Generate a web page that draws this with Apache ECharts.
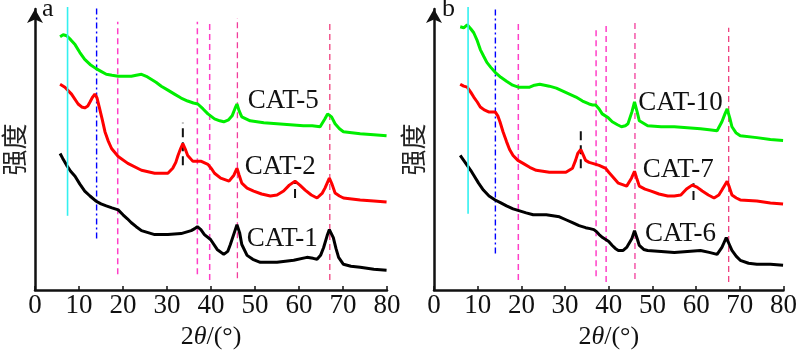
<!DOCTYPE html>
<html>
<head>
<meta charset="utf-8">
<script src="https://cdn.jsdelivr.net/npm/echarts@6/dist/echarts.min.js"></script>
<style>html,body{margin:0;padding:0;background:#fff}#c{width:800px;height:355px}</style>
</head>
<body>
<div id="c"></div>
<script>
// ---- data (2θ in degrees, intensity in arbitrary units) ----
const cat5 = [[5.7,256],[6.4,258],[7.2,257],[8.1,253],[9.1,248],[10.2,240],[11.3,233],[12.5,228],[13.8,224],[15.0,221],[16.2,218],[17.5,217],[18.9,216],[20.4,216],[21.9,216],[23.0,217],[24.2,218],[25.3,216],[26.4,213],[27.5,210],[28.7,206],[30.2,202],[31.7,198],[33.2,194],[34.7,191],[36.0,189],[37.0,188],[38.2,183],[39.3,178],[40.8,173],[42.0,171],[42.9,170],[44.0,172],[44.8,176],[45.5,184],[45.9,188],[46.4,181],[47.0,175],[48.9,171],[52.0,169],[55.0,168],[58.0,167],[61.0,166],[63.0,166],[64.8,165],[65.9,173],[66.5,178],[66.9,180],[67.4,175],[68.2,168],[69.2,163],[70.1,160],[73.9,158],[77.0,157],[79.9,156]];
const cat2 = [[5.7,208],[6.8,205],[8.3,198],[9.8,188],[10.6,185],[11.3,184],[12.0,186],[12.5,190],[13.1,195],[13.6,198],[14.1,194],[14.7,183],[15.3,172],[15.9,160],[16.6,151],[17.4,143],[18.9,135],[21.1,128],[24.2,121],[27.2,118],[30.2,118],[31.3,123],[32.0,129],[32.5,136],[33.1,143],[33.6,148],[34.1,143],[34.7,136],[35.9,130],[37.8,130],[39.3,127],[40.2,122],[40.8,118],[42.2,113],[44.1,110],[45.2,116],[45.9,123],[46.4,116],[47.0,108],[48.2,103],[49.7,100],[51.5,97],[53.5,95],[55.0,96],[56.5,100],[57.8,106],[59.1,110],[60.2,106],[61.4,101],[62.8,96],[64.1,93],[65.3,98],[65.9,103],[66.9,113],[67.5,107],[68.2,98],[69.2,95],[70.1,93],[73.9,91],[77.0,90],[79.9,89]];
const cat1 = [[5.7,138],[6.3,133],[7.2,126],[8.1,120],[9.1,115],[10.2,107],[11.3,100],[12.5,95],[13.8,90],[15.0,87],[16.2,85],[17.5,83],[18.9,81],[20.0,76],[21.0,72],[21.9,68],[23.0,64],[24.2,60],[25.7,58],[27.2,56],[30.2,56],[33.2,57],[35.5,60],[36.3,62],[36.9,64],[37.7,61],[38.5,56],[39.9,51],[41.4,41],[42.9,36],[43.8,39],[44.4,46],[45.3,58],[45.9,66],[46.5,58],[47.0,46],[48.2,35],[49.5,31],[51.2,28],[55.0,28],[58.8,30],[61.8,33],[63.2,32],[64.1,31],[64.9,35],[65.6,43],[66.4,55],[66.9,61],[67.3,59],[67.8,53],[68.4,42],[69.0,33],[70.1,26],[71.8,24],[73.9,23],[77.0,21],[79.9,20]];
const cat10 = [[6.0,266],[6.8,265],[7.6,268],[8.4,264],[9.1,260],[9.9,252],[10.6,243],[11.4,236],[12.1,230],[13.0,225],[14.0,220],[15.3,215],[16.6,211],[18.0,207],[19.3,205],[20.6,205],[21.9,205],[23.0,207],[24.2,208],[25.3,207],[26.4,206],[28.0,204],[29.5,201],[31.0,198],[32.5,195],[34.0,191],[35.5,188],[36.3,187],[37.0,187],[37.8,183],[38.5,178],[39.9,174],[40.8,170],[42.0,167],[42.9,165],[43.8,166],[44.4,168],[45.3,180],[45.9,190],[46.5,180],[47.0,171],[48.9,166],[52.0,165],[55.0,165],[58.0,164],[61.0,163],[63.0,162],[64.8,161],[65.9,170],[66.6,178],[67.1,183],[67.7,174],[68.2,165],[69.1,159],[70.1,156],[73.9,154],[77.0,152],[79.9,151]];
const cat7 = [[6.0,208],[6.8,206],[7.6,205],[8.4,200],[9.1,195],[9.9,190],[10.6,185],[11.5,182],[12.5,180],[13.3,180],[14.0,180],[14.6,176],[15.1,170],[15.8,160],[16.6,150],[17.3,142],[18.1,136],[19.2,131],[20.4,128],[21.9,124],[23.4,121],[26.4,119],[30.2,119],[31.7,123],[32.4,131],[32.9,138],[33.6,142],[34.1,137],[34.7,131],[35.5,129],[36.3,128],[37.8,126],[39.3,123],[40.0,119],[40.8,115],[42.2,108],[44.1,105],[45.2,113],[45.9,120],[46.4,113],[47.0,105],[48.3,102],[49.7,100],[51.5,97],[53.5,95],[55.0,95],[56.5,96],[57.8,102],[59.1,106],[60.2,104],[61.4,100],[62.8,96],[64.1,93],[65.2,96],[65.9,101],[67.1,110],[67.6,104],[68.2,96],[69.2,93],[70.1,91],[73.9,90],[77.0,88],[79.9,87]];
const cat6 = [[6.0,136],[6.8,131],[7.6,126],[8.4,121],[9.1,116],[10.2,108],[11.3,101],[12.6,95],[14.0,91],[15.3,88],[16.6,85],[18.1,82],[19.6,80],[21.1,78],[22.7,76],[24.2,76],[25.7,76],[27.2,75],[28.7,74],[30.2,71],[31.7,68],[33.2,65],[34.7,63],[35.7,62],[36.6,61],[37.2,59],[37.8,56],[38.6,53],[39.3,51],[40.0,49],[40.8,45],[41.5,42],[42.2,40],[43.3,40],[44.1,43],[45.3,52],[45.9,60],[46.5,52],[47.0,45],[48.0,41],[48.9,40],[52.0,39],[55.0,38],[58.0,39],[61.0,40],[63.0,38],[64.8,36],[65.9,43],[66.4,48],[66.9,53],[67.4,48],[68.2,40],[69.2,34],[70.1,30],[72.0,27],[73.9,26],[77.0,26],[79.9,25]];

// reference lines: position (2θ) and vertical extent (intensity units)
const refPosA = [7.4, 14.0, 18.8, 36.9, 39.7, 46.0, 67.0];
const refTopA = [286, 285, 271, 271, 271, 275, 273];
const refBotA = [75, 52, 16, 16, 10, 12, 10];
const refPosB = [7.8, 14.05, 19.3, 37.1, 39.4, 46.0, 67.45];
const refTopB = [286, 286, 270, 266, 269, 270, 265];
const refBotB = [77, 37, 10, 14, 8, 11, 8];
// black peak markers: position and extent
const markPosA = [33.6, 59.1];
const markTopA = [169, 110];
const markBotA = [126, 93];
const markPosB = [33.6, 59.4];
const markTopB = [163, 108];
const markBotB = [123, 91];

const namesA = ['CAT-5', 'CAT-2', 'CAT-1'];
const namesB = ['CAT-10', 'CAT-7', 'CAT-6'];
const labelPosA = [[56.4, 191], [55.75, 124], [56.2, 52]];
const labelPosB = [[56.4, 189], [55.9, 121], [56.4, 57]];

// ---- styles ----
const curveColors = ['#00ee00', '#ff0000', '#000000'];
const refStyles = [
  {color: '#33f0f0', type: 'solid', width: 1.6},
  {color: '#0000ff', type: [6, 3, 2, 3], width: 1.4},
  {color: '#ff3fc8', type: [6, 4], width: 1.5},
  {color: '#ff3fc8', type: [6, 4], width: 1.5},
  {color: '#ff3fc8', type: [6, 4], width: 1.5},
  {color: '#f23c9c', type: [6, 4], width: 1.3},
  {color: '#f0407f', type: [6, 4], width: 1.3}
];
const serif = 'Liberation Serif';

function xAxis(idx) {
  return {
    type: 'value', gridIndex: idx, min: 0, max: 80, interval: 10,
    name: '{n|2}{i|θ}{n|/(°)}', nameLocation: 'middle', nameGap: 34,
    nameTextStyle: {rich: {n: {fontFamily: serif, fontSize: 26, color: '#111'}, i: {fontFamily: serif, fontStyle: 'italic', fontSize: 26, color: '#111'}}},
    axisLine: {show: true, onZero: false, lineStyle: {color: '#111', width: 2.5}},
    axisTick: {show: true, inside: true, length: 4, lineStyle: {color: '#111', width: 1.5}},
    axisLabel: {show: true, margin: 2, fontFamily: serif, fontSize: 27, color: '#111'},
    splitLine: {show: false}
  };
}
function yAxis(idx) {
  return {
    type: 'value', gridIndex: idx, min: 0, max: 284,
    name: '强度', nameLocation: 'middle', nameGap: 8,
    nameTextStyle: {fontFamily: 'Noto Sans CJK SC', fontSize: 26, color: '#222'},
    axisLine: {show: true, symbol: ['none', 'arrow'], symbolSize: [12, 14], lineStyle: {color: '#111', width: 2.5}},
    axisTick: {show: false}, axisLabel: {show: false}, splitLine: {show: false}
  };
}

const series = [];
function addPanel(idx, curves, names, labelPos, refPos, refTop, refBot, mPos, mTop, mBot) {
  refPos.forEach((x, i) => {
    series.push({
      type: 'line', xAxisIndex: idx, yAxisIndex: idx, symbol: 'none', silent: true, clip: false,
      z: i === 0 ? 5 : 1,
      lineStyle: refStyles[i], data: [[x, refBot[i]], [x, refTop[i]]]
    });
  });
  mPos.forEach((x, i) => {
    series.push({
      type: 'line', xAxisIndex: idx, yAxisIndex: idx, symbol: 'none', silent: true, z: 1,
      lineStyle: {color: '#111', type: [9, 5], width: 2}, data: [[x, mBot[i]], [x, mTop[i]]]
    });
  });
  curves.forEach((d, i) => {
    series.push({
      type: 'line', name: names[i], xAxisIndex: idx, yAxisIndex: idx, symbol: 'none', z: 3,
      lineStyle: {color: curveColors[i], width: 3}, data: d
    });
  });
  series.push({
    type: 'scatter', xAxisIndex: idx, yAxisIndex: idx, symbolSize: 0, silent: true, z: 6,
    itemStyle: {color: '#000', opacity: 1},
    label: {show: true, position: 'inside', formatter: p => p.name, fontFamily: serif, fontSize: 27, color: '#111', opacity: 1, textBorderWidth: 0},
    data: labelPos.map((p, i) => ({name: names[i], value: p}))
  });
}
addPanel(0, [cat5, cat2, cat1], namesA, labelPosA, refPosA, refTopA, refBotA, markPosA, markTopA, markBotA);
addPanel(1, [cat10, cat7, cat6], namesB, labelPosB, refPosB, refTopB, refBotB, markPosB, markTopB, markBotB);

const chart = echarts.init(document.getElementById('c'), null, {renderer: 'canvas'});
chart.setOption({
  animation: false,
  backgroundColor: '#fff',
  grid: [
    {left: 34, right: 413, top: 9, bottom: 62},
    {left: 434, right: 13, top: 9, bottom: 62}
  ],
  xAxis: [xAxis(0), xAxis(1)],
  yAxis: [yAxis(0), yAxis(1)],
  graphic: [
    {type: 'text', left: 42, top: -4, style: {text: 'a', fontFamily: serif, fontSize: 26, fill: '#111'}},
    {type: 'text', left: 442, top: -4, style: {text: 'b', fontFamily: serif, fontSize: 26, fill: '#111'}}
  ],
  series: series
});
</script>
</body>
</html>
